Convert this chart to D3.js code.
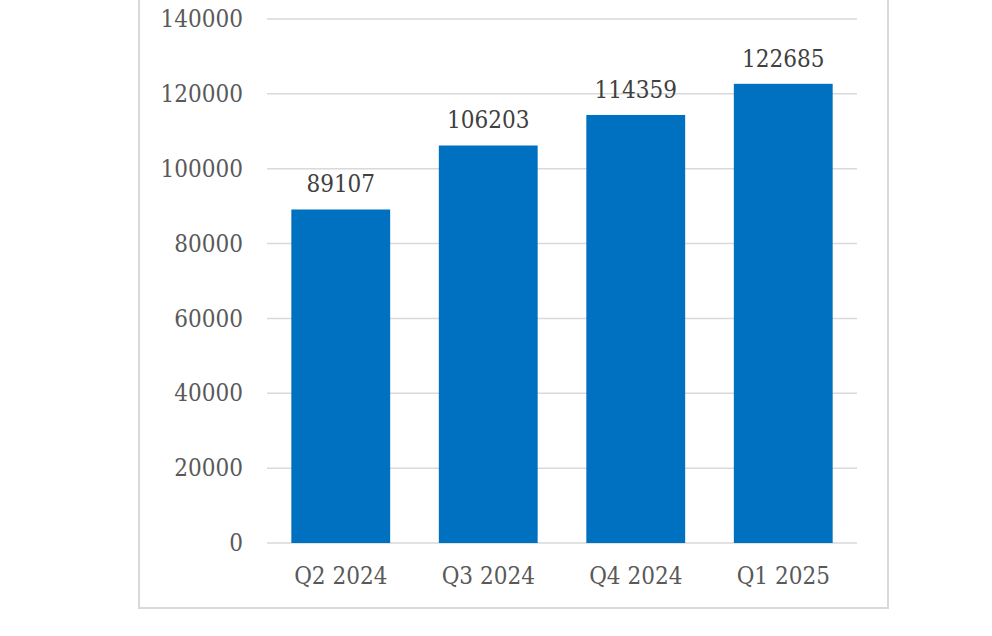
<!DOCTYPE html>
<html><head><meta charset="utf-8">
<script src="https://cdn.jsdelivr.net/npm/d3@7"></script>
<style>html,body{margin:0;padding:0;background:#fff;}svg{display:block;}</style>
</head><body><svg id="c" width="992" height="636"></svg>
<script>
const categories = ["Q2 2024", "Q3 2024", "Q4 2024", "Q1 2025"];
const values = [89107, 106203, 114359, 122685];
const yTicks = [0, 20000, 40000, 60000, 80000, 100000, 120000, 140000];

const svg = d3.select("#c");
const font = "'DejaVu Serif Condensed', 'DejaVu Serif', serif";
const fs = 24;
// chart border
svg.append("rect").attr("x", 139).attr("y", -10).attr("width", 749).attr("height", 618)
  .attr("fill", "none").attr("stroke", "#d9d9d9").attr("stroke-width", 2);

const x = d3.scaleBand().domain(categories).range([267, 857]).paddingInner(0.33).paddingOuter(0.165);
const y = d3.scaleLinear().domain([0, 140000]).range([543, 19]);

const grid = svg.append("g");
grid.selectAll("line").data(yTicks).join("line")
  .attr("x1", 267).attr("x2", 857)
  .attr("y1", d => y(d)).attr("y2", d => y(d))
  .attr("stroke", "#d9d9d9").attr("stroke-width", 1.5);

const yAxis = d3.axisLeft(y).tickValues(yTicks).tickSize(0).tickPadding(0).tickFormat(d3.format("d"));
const ya = svg.append("g").attr("transform", "translate(243,0)").call(yAxis);
ya.select(".domain").remove();
ya.selectAll("text").attr("font-family", font).attr("font-stretch", "condensed").attr("font-size", fs).attr("fill", "#595959");

svg.append("g").selectAll("rect").data(values).join("rect")
  .attr("x", (d, i) => x(categories[i])).attr("width", x.bandwidth())
  .attr("y", d => y(d)).attr("height", d => y(0) - y(d))
  .attr("fill", "#0070C0");

const xAxis = d3.axisBottom(x).tickSize(0).tickPadding(0);
const xa = svg.append("g").attr("transform", "translate(0,567)").call(xAxis);
xa.select(".domain").remove();
xa.selectAll("text").attr("font-family", font).attr("font-stretch", "condensed").attr("font-size", fs).attr("fill", "#595959").attr("dy", "0.71em");

svg.append("g").selectAll("text").data(values).join("text")
  .attr("x", (d, i) => x(categories[i]) + x.bandwidth() / 2)
  .attr("y", d => y(d) - 17)
  .attr("text-anchor", "middle")
  .attr("font-family", font).attr("font-stretch", "condensed").attr("font-size", fs).attr("fill", "#404040")
  .text(d => d);
</script></body></html>
